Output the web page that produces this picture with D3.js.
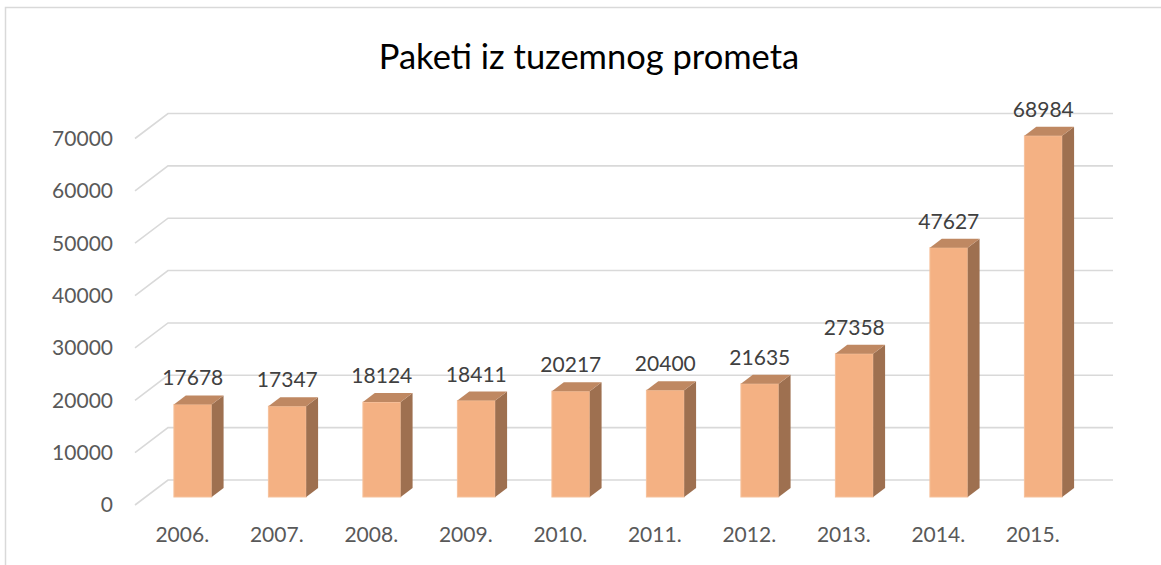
<!DOCTYPE html>
<html>
<head>
<meta charset="utf-8">
<script src="https://cdn.jsdelivr.net/npm/d3@7"></script>
<style>
  body { margin: 0; background: #fff; }
  text { font-family: Lato, "Open Sans", sans-serif; }
</style>
</head>
<body>
<div id="chart"></div>
<script>
// data
const years = ['2006.', '2007.', '2008.', '2009.', '2010.', '2011.', '2012.', '2013.', '2014.', '2015.'];
const paketi = [17678, 17347, 18124, 18411, 20217, 20400, 21635, 27358, 47627, 68984];
const yTicks = [0, 10000, 20000, 30000, 40000, 50000, 60000, 70000];

const width = 1161, height = 565;
// 3d depth of the floor / walls
const depth = {dx: 33, dy: -25};
const barZ = [0.32, 0.68];   // bar occupies this slice of the depth

const svg = d3.select('#chart').append('svg')
    .attr('width', width)
    .attr('height', height);

// chart frame
svg.append('rect')
    .attr('x', 5.5).attr('y', 7.5)
    .attr('width', width + 10).attr('height', height + 10)
    .attr('fill', 'none')
    .attr('stroke', '#d9d9d9')
    .attr('stroke-width', 1.5);

svg.append('text')
    .attr('x', 589).attr('y', 69)
    .attr('text-anchor', 'middle')
    .attr('font-size', 34.5)
    .attr('fill', '#000')
    .text('Paketi iz tuzemnog prometa');

// scales on the front plane
const xScale = d3.scaleBand()
    .domain(years)
    .range([135, 1080]);
const yScale = d3.scaleLinear()
    .domain([0, 70000])
    .range([505, 138.5]);

// gridlines: left wall diagonal + back wall
const grid = svg.append('g').attr('class', 'grid');
yTicks.forEach(t => {
    const y = yScale(t);
    grid.append('path')
        .attr('d', `M${xScale.range()[0]},${y} l${depth.dx},${depth.dy} L${xScale.range()[1] + depth.dx},${y + depth.dy}`)
        .attr('fill', 'none')
        .attr('stroke', '#d9d9d9')
        .attr('stroke-width', 1.6);
});

// y axis labels
svg.append('g').selectAll('text')
    .data(yTicks).join('text')
    .attr('x', 113)
    .attr('y', d => yScale(d))
    .attr('dy', '0.35em')
    .attr('text-anchor', 'end')
    .attr('font-size', 21)
    .attr('fill', '#595959')
    .text(d => d);

// x axis labels
svg.append('g').selectAll('text')
    .data(years).join('text')
    .attr('x', d => xScale(d) + xScale.bandwidth() / 2)
    .attr('y', 535)
    .attr('dy', '0.35em')
    .attr('text-anchor', 'middle')
    .attr('font-size', 21)
    .attr('fill', '#595959')
    .text(d => d);

// bars
const bw = xScale.bandwidth() * 0.4;
const fx = depth.dx * barZ[0], fy = depth.dy * barZ[0];
const sx = depth.dx * (barZ[1] - barZ[0]), sy = depth.dy * (barZ[1] - barZ[0]);

const bars = svg.append('g').selectAll('g')
    .data(years.map((y, i) => ({year: y, value: paketi[i]})))
    .join('g')
    .attr('transform', d => `translate(${xScale(d.year) + xScale.bandwidth() / 2 - bw / 2 + fx}, ${fy})`);

bars.append('rect')
    .attr('x', 0)
    .attr('y', d => yScale(d.value))
    .attr('width', bw)
    .attr('height', d => yScale(0) - yScale(d.value))
    .attr('fill', '#f4b183')
    .attr('stroke', '#f6c19b')
    .attr('stroke-width', 1);

// right side
bars.append('path')
    .attr('d', d => `M${bw},${yScale(d.value)} l${sx},${sy} L${bw + sx},${yScale(0) + sy} L${bw},${yScale(0)} Z`)
    .attr('fill', '#9e7050');

// top
bars.append('path')
    .attr('d', d => `M0,${yScale(d.value)} l${sx},${sy} l${bw},0 l${-sx},${-sy} Z`)
    .attr('fill', '#bf8862');

// value labels
bars.append('text')
    .attr('x', bw / 2)
    .attr('y', d => yScale(d.value) + sy - 10)
    .attr('text-anchor', 'middle')
    .attr('font-size', 21)
    .attr('fill', '#404040')
    .text(d => d.value);
</script>
</body>
</html>
